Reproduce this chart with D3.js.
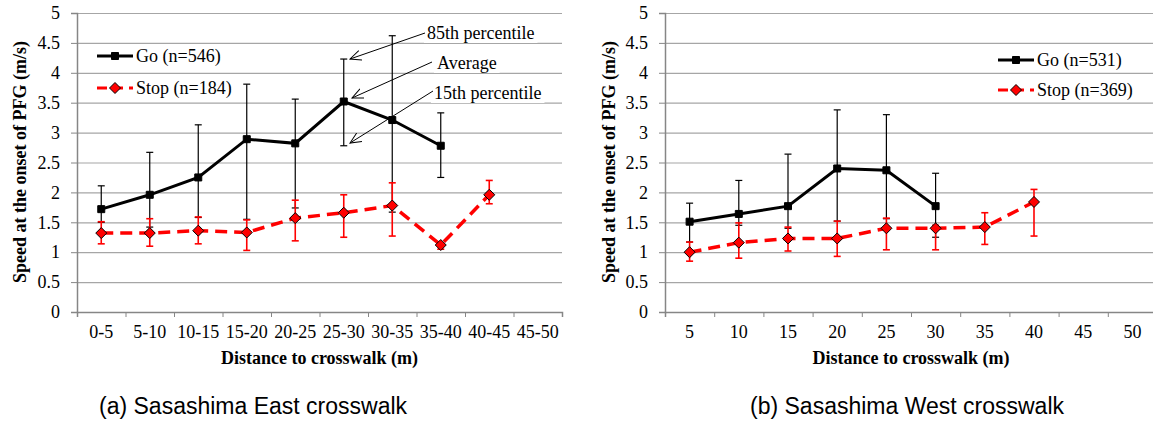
<!DOCTYPE html>
<html>
<head>
<meta charset="utf-8">
<script src="https://cdn.jsdelivr.net/npm/d3@7"></script>
<style>
  body { margin: 0; background: #fff; }
  svg { display: block; }
  .tick text { font-family: "Liberation Serif", "Times New Roman", serif; font-size: 18px; fill: #000; }
</style>
</head>
<body>
<svg width="1153" height="421"></svg>
<script>
// ---- data ----
const catsEast = ["0-5", "5-10", "10-15", "15-20", "20-25", "25-30", "30-35", "35-40", "40-45", "45-50"];
const goEast    = [1.72, 1.96, 2.25, 2.89, 2.82, 3.52, 3.21, 2.78];
const goEast85  = [2.11, 2.67, 3.13, 3.81, 3.56, 4.23, 4.62, 3.33];
const goEast15  = [1.50, 1.42, 1.58, 1.55, 1.74, 2.78, 1.67, 2.25];
const stopEast   = [1.32, 1.32, 1.36, 1.33, 1.57, 1.66, 1.78, 1.12, 1.96];
const stopEast85 = [1.51, 1.56, 1.59, 1.54, 1.87, 1.96, 2.16, 1.15, 2.20];
const stopEast15 = [1.14, 1.10, 1.14, 1.03, 1.19, 1.25, 1.27, 1.05, 1.81];

const catsWest = ["5", "10", "15", "20", "25", "30", "35", "40", "45", "50"];
const goWest    = [1.51, 1.64, 1.77, 2.40, 2.37, 1.77];
const goWest85  = [1.82, 2.20, 2.64, 3.38, 3.30, 2.32];
const goWest15  = [1.17, 1.45, 1.40, 1.52, 1.56, 1.25];
const stopWest   = [1.00, 1.16, 1.23, 1.23, 1.40, 1.40, 1.42, 1.84];
const stopWest85 = [1.17, 1.49, 1.42, 1.52, 1.57, 1.45, 1.66, 2.05];
const stopWest15 = [0.85, 0.90, 1.02, 0.93, 1.04, 1.04, 1.13, 1.27];

const yTicks = d3.range(0, 5.01, 0.5);
const yTitle = "Speed at the onset of PFG (m/s)";
const xTitle = "Distance to crosswalk (m)";

const svg = d3.select("svg");
const serif = '"Liberation Serif", "Times New Roman", serif';

// open arrowhead for the annotation arrows
svg.append("defs").append("marker")
    .attr("id", "arrow")
    .attr("viewBox", "0 0 12 12")
    .attr("refX", 11).attr("refY", 6)
    .attr("markerWidth", 12).attr("markerHeight", 12)
    .attr("markerUnits", "userSpaceOnUse")
    .attr("orient", "auto")
  .append("path")
    .attr("d", "M0,1 L11,6 L0,11")
    .attr("fill", "none")
    .attr("stroke", "#000")
    .attr("stroke-width", 1);

function series(cats, mean, p85, p15) {
    return mean.map((v, i) => ({ cat: cats[i], v: v, hi: p85[i], lo: p15[i] }));
}

function drawChart(opt) {
    const g = svg.append("g");
    const x = d3.scaleBand().domain(opt.cats).range([opt.left, opt.right]).padding(0);
    const xEdge = d3.scaleLinear().domain([0, opt.cats.length]).range([opt.left, opt.right]);
    const y = d3.scaleLinear().domain([0, 5]).range([312, 13]);

    // gridlines
    g.append("g")
        .attr("transform", `translate(${opt.left},0)`)
        .call(d3.axisLeft(y).tickValues(yTicks).tickSize(-(opt.right - opt.left)).tickFormat(""))
        .call(a => a.select(".domain").remove())
        .call(a => a.selectAll("line").attr("stroke", "#a6a6a6").attr("stroke-width", 1.2));

    // y axis
    g.append("g")
        .attr("transform", `translate(${opt.left},0)`)
        .call(d3.axisLeft(y).tickValues(yTicks).tickSize(6).tickPadding(11).tickFormat(d3.format("")))
        .call(a => a.select(".domain").attr("stroke", "#868686").attr("stroke-width", 1.5))
        .call(a => a.selectAll("line").attr("stroke", "#868686"));

    // x axis: ticks at category edges, labels at centres
    g.append("g")
        .attr("transform", "translate(0,312)")
        .call(d3.axisBottom(xEdge).ticks(opt.cats.length).tickSize(5).tickFormat(""))
        .call(a => a.select(".domain").attr("stroke", "#868686").attr("stroke-width", 1.5))
        .call(a => a.selectAll("line").attr("stroke", "#868686"));
    g.append("g")
        .attr("transform", "translate(0,312)")
        .call(d3.axisBottom(x).tickSize(0).tickPadding(13))
        .call(a => a.select(".domain").remove());

    // axis titles
    g.append("text")
        .attr("transform", `translate(${opt.yTitleX},162) rotate(-90)`)
        .attr("text-anchor", "middle")
        .style("font-family", serif).style("font-size", "18px").style("font-weight", "bold")
        .text(yTitle);
    g.append("text")
        .attr("x", (opt.left + opt.right) / 2 - (opt.right > 1153 ? 0 : 0))
        .attr("y", 364)
        .attr("text-anchor", "middle")
        .style("font-family", serif).style("font-size", "18px").style("font-weight", "bold")
        .text(xTitle);

    const cx = d => x(d.cat) + x.bandwidth() / 2;
    const line = d3.line().x(cx).y(d => y(d.v));

    function drawSeries(data, color, dashed, shape) {
        const s = g.append("g");
        const eb = s.selectAll(".eb").data(data).enter().append("g")
            .attr("stroke", color).attr("stroke-width", color === "#000" ? 1.2 : 1.6);
        eb.append("line").attr("x1", cx).attr("x2", cx).attr("y1", d => y(d.hi)).attr("y2", d => y(d.lo));
        eb.append("line").attr("x1", d => cx(d) - 3.5).attr("x2", d => cx(d) + 3.5).attr("y1", d => y(d.hi)).attr("y2", d => y(d.hi));
        eb.append("line").attr("x1", d => cx(d) - 3.5).attr("x2", d => cx(d) + 3.5).attr("y1", d => y(d.lo)).attr("y2", d => y(d.lo));

        s.append("path").datum(data)
            .attr("d", line)
            .attr("fill", "none")
            .attr("stroke", color)
            .attr("stroke-width", dashed ? 3.5 : 3)
            .attr("stroke-dasharray", dashed ? "12,7" : null);

        s.selectAll(".mk").data(data).enter().append("path")
            .attr("transform", d => `translate(${cx(d)},${y(d.v)})`)
            .attr("d", shape)
            .attr("fill", color === "#000" ? "#000" : "#ff0000")
            .attr("stroke", "#000").attr("stroke-width", 1);
    }

    const square = "M-3.5,-3.5H3.5V3.5H-3.5Z";
    const diamond = "M0,-5.5L5.5,0L0,5.5L-5.5,0Z";

    drawSeries(series(opt.cats, opt.go, opt.go85, opt.go15), "#000", false, square);
    drawSeries(series(opt.cats, opt.stop, opt.stop85, opt.stop15), "#ff0000", true, diamond);

    // legend
    const lg = g.append("g");
    opt.legend.forEach((l, i) => {
        const ly = opt.legY[i];
        lg.append("line")
            .attr("x1", opt.legX).attr("x2", opt.legX + 36).attr("y1", ly).attr("y2", ly)
            .attr("stroke", i === 0 ? "#000" : "#ff0000").attr("stroke-width", 3)
            .attr("stroke-dasharray", i === 0 ? null : "10,6");
        lg.append("path")
            .attr("transform", `translate(${opt.legX + 18},${ly})`)
            .attr("d", i === 0 ? square : diamond)
            .attr("fill", i === 0 ? "#000" : "#ff0000")
            .attr("stroke", "#000");
        lg.append("text")
            .attr("x", opt.legX + 39).attr("y", ly + 6)
            .style("font-family", serif).style("font-size", "18px")
            .text(l);
    });

    // caption
    svg.append("text")
        .attr("x", opt.capX).attr("y", 414)
        .style("font-family", '"Liberation Sans", Arial, sans-serif').style("font-size", "23px")
        .text(opt.caption);

    return { x: x, y: y };
}

drawChart({
    cats: catsEast, left: 77, right: 562, yTitleX: 26,
    go: goEast, go85: goEast85, go15: goEast15,
    stop: stopEast, stop85: stopEast85, stop15: stopEast15,
    legend: ["Go (n=546)", "Stop (n=184)"], legX: 97, legY: [56, 88],
    caption: "(a) Sasashima East crosswalk", capX: 99
});

drawChart({
    cats: catsWest, left: 665, right: 1157, yTitleX: 615,
    go: goWest, go85: goWest85, go15: goWest15,
    stop: stopWest, stop85: stopWest85, stop15: stopWest15,
    legend: ["Go (n=531)", "Stop (n=369)"], legX: 998, legY: [60, 90],
    caption: "(b) Sasashima West crosswalk", capX: 750
});

// annotations for the 25-30 bar of the east chart
const notes = [
    { text: "85th percentile", tx: 427, ty: 39, from: [425, 33], to: [350, 59] },
    { text: "Average",         tx: 437, ty: 69, from: [432, 62], to: [352, 98] },
    { text: "15th percentile", tx: 434, ty: 99, from: [433, 91], to: [350, 143] }
];
const ann = svg.append("g");
notes.forEach(n => {
    const t = ann.append("text")
        .attr("x", n.tx).attr("y", n.ty)
        .style("font-family", serif).style("font-size", "18px")
        .text(n.text);
    const bb = t.node().getBBox();
    ann.insert("rect", "text")
        .attr("x", bb.x - 3).attr("y", bb.y).attr("width", bb.width + 6).attr("height", bb.height)
        .attr("fill", "#fff");
    ann.append("line")
        .attr("x1", n.from[0]).attr("y1", n.from[1]).attr("x2", n.to[0]).attr("y2", n.to[1])
        .attr("stroke", "#000").attr("stroke-width", 1)
        .attr("marker-end", "url(#arrow)");
});
</script>
</body>
</html>
